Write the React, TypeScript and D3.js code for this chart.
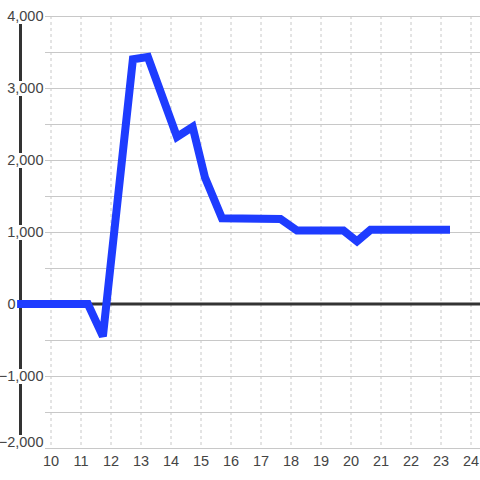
import React from "react";
import * as d3 from "d3";

const xValues = [8.87, 11.23, 11.73, 12.73, 13.23, 14.2, 14.72, 15.13, 15.7, 17.65, 18.2, 19.75, 20.2, 20.65, 23.3];
const yValues = [0, 0, -450, 3400, 3430, 2320, 2460, 1760, 1190, 1180, 1020, 1020, 870, 1030, 1030];
const xTicks = [10, 11, 12, 13, 14, 15, 16, 17, 18, 19, 20, 21, 22, 23, 24];
const yTicks = [-2000, -1000, 0, 1000, 2000, 3000, 4000];
const yGrid = [-2000, -1500, -1000, -500, 0, 500, 1000, 1500, 2000, 2500, 3000, 3500, 4000];

export default function App() {
  const W = 480, H = 480;
  const x = d3.scaleLinear().domain([10, 24]).range([51, 471]);
  const y = d3.scaleLinear().domain([-2000, 4000]).range([448, 16]);
  const fmt = d3.format(",");
  const pts: [number, number][] = xValues.map((v, i) => [v, yValues[i]]);
  const line = d3.line<[number, number]>().x((d) => x(d[0])).y((d) => y(d[1]));
  const font = "'Liberation Sans', Arial, sans-serif";
  return (
    <svg width={W} height={H} style={{ position: "absolute", left: 0, top: 0, background: "#fff" }}>
      <rect x={0} y={0} width={W} height={H} fill="#fff" />
      {xTicks.map((t) => (
        <line key={"vx" + t} x1={x(t)} x2={x(t)} y1={y(4000)} y2={y(-2000)} stroke="#c8c8c8" strokeDasharray="3,3" />
      ))}
      {yGrid.map((t) => (
        <line key={"hy" + t} x1={45} x2={W} y1={y(t) + 0.5} y2={y(t) + 0.5} stroke="#c8c8c8" />
      ))}
      <line x1={20.5} x2={20.5} y1={24} y2={435} stroke="#333" strokeWidth={3} />
      <line x1={20} x2={W} y1={y(0)} y2={y(0)} stroke="#333" strokeWidth={3} />
      {yTicks.map((t) => {
        const isZero = t === 0;
        const ax = isZero ? 15.5 : 43.5;
        const ty = t === -2000 ? y(t) - 6 : y(t);
        return (
          <g key={"yl" + t}>
            {!isZero && <rect x={ax - 38} y={ty - 7} width={38} height={15} fill="#fff" />}
            <text x={ax} y={ty} dy="0.35em" textAnchor="end" fontFamily={font} fontSize={14.5} fill="#444">
              {fmt(t)}
            </text>
          </g>
        );
      })}
      {xTicks.map((t) => (
        <text key={"xl" + t} x={x(t)} y={466} textAnchor="middle" fontFamily={font} fontSize={14.5} fill="#444">
          {t}
        </text>
      ))}
      <path d={line(pts) || ""} fill="none" stroke="#1e3cff" strokeWidth={8} strokeLinejoin="miter" strokeMiterlimit={2} strokeLinecap="butt" />
    </svg>
  );
}
